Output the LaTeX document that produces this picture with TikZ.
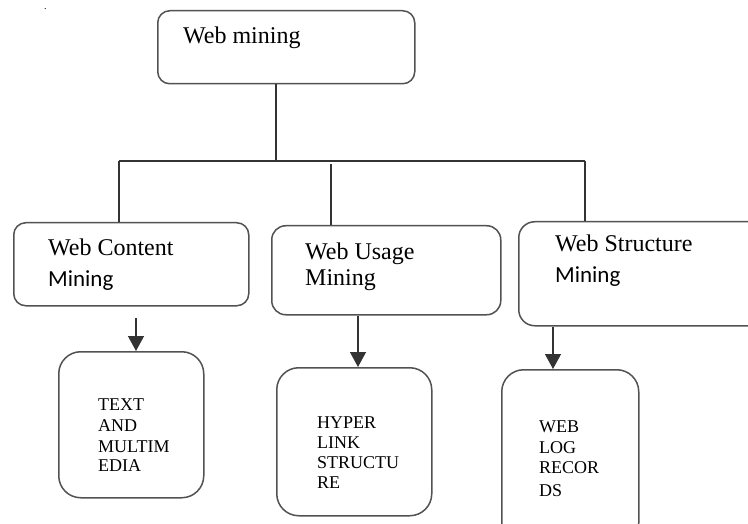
\documentclass[tikz,border=0pt]{standalone}
\usepackage{fontspec}
\setmainfont{Liberation Serif}
\newfontfamily\calib{Carlito}
\usetikzlibrary{arrows.meta}
\begin{document}
\begin{tikzpicture}[x=1pt,y=-1pt,
  box/.style={draw=black!68,line width=1.5pt,rounded corners=#1,anchor=north west,inner sep=0pt,fill=white},
  conn/.style={draw=black!80,line width=1.3pt},
  arr/.style={conn,-{Triangle[width=16pt,length=15pt]}},
  lbl/.style={anchor=base west,inner sep=0pt,font=\fontsize{24}{28}\selectfont},
  lbls/.style={anchor=base west,inner sep=0pt,font=\fontsize{23}{27}\selectfont\calib},
  capt/.style={anchor=base west,inner sep=0pt,font=\fontsize{18}{21}\selectfont}
]
\useasboundingbox (0,0) rectangle (748,524);
\clip (0,0) rectangle (748,524);
\fill[white] (0,0) rectangle (748,524);

% boxes
\node[box=12pt,minimum width=257pt,minimum height=73pt] (top) at (157,10) {};
\node[box=12pt,minimum width=235pt,minimum height=83pt] (b1) at (13,222) {};
\node[box=14pt,minimum width=229pt,minimum height=89pt] (b2) at (271,225) {};
\node[box=16pt,minimum width=250pt,minimum height=104pt] (b3) at (518,221) {};
\node[box=22pt,minimum width=145pt,minimum height=146pt] (c1) at (58,351) {};
\node[box=22pt,minimum width=155pt,minimum height=148pt] (c2) at (276,367) {};
\node[box=22pt,minimum width=137pt,minimum height=175pt] (c3) at (501,369) {};

% texts
\node[anchor=base west,inner sep=0pt,font=\fontsize{10}{12}\selectfont] (dot) at (44,10) {.};
\node[lbl] (t0) at (183,44) {Web mining};
\node[lbl] (t1a) at (48,256) {Web Content};
\node[lbls] (t1b) at (48,287) {Mining};
\node[lbl] (t2a) at (305,260) {Web Usage};
\node[lbl] (t2b) at (305,285) {Mining};
\node[lbl] (t3a) at (555,252) {Web Structure};
\node[lbls] (t3b) at (555,283) {Mining};

\node[capt] (p1) at (98,410) {TEXT};
\node[capt] (p2) at (98,431) {AND};
\node[capt] (p3) at (98,452) {MULTIM};
\node[capt] (p4) at (98,471) {EDIA};
\node[capt] (q1) at (317,428) {HYPER};
\node[capt] (q2) at (317,448) {LINK};
\node[capt] (q3) at (317,468) {STRUCTU};
\node[capt] (q4) at (317,488) {RE};
\node[capt] (r1) at (539,432) {WEB};
\node[capt] (r2) at (539,453) {LOG};
\node[capt] (r3) at (539,473) {RECOR};
\node[capt] (r4) at (539,496) {DS};

% connectors
\coordinate (jm) at (276,161);
\coordinate (jl) at (119,161);
\coordinate (jr) at (585,161);
\coordinate (jc) at (331,164);
\coordinate (a1) at (136,318);
\coordinate (a2) at (358,0);
\coordinate (a3) at (553,0);
\draw[conn] (top.south -| jm) -- (jm);
\draw[conn] (jl) -- (jr);
\draw[conn] (jl) -- (b1.north -| jl);
\draw[conn] (jc) -- (b2.north -| jc);
\draw[conn] (jr) -- (b3.north -| jr);
\draw[arr] (a1) -- (c1.north -| a1);
\draw[arr] (b2.south -| a2) -- (c2.north -| a2);
\draw[arr] (b3.south -| a3) -- (c3.north -| a3);
\end{tikzpicture}
\end{document}
